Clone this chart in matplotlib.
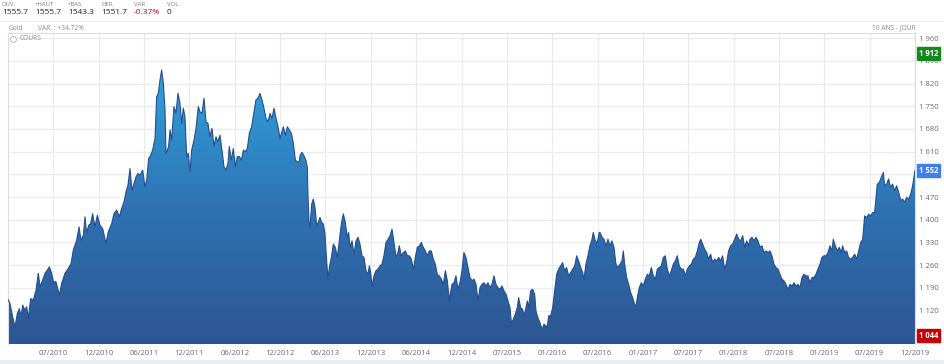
import numpy as np
import matplotlib
matplotlib.use("Agg")
import matplotlib.pyplot as plt
from matplotlib.colors import LinearSegmentedColormap

plt.rcParams['font.family'] = ['Open Sans', 'DejaVu Sans']

# ---- data (decimal year, gold price) ----
dates = [
    2010.000, 2010.022, 2010.051, 2010.077, 2010.103, 2010.125, 2010.143, 2010.162, 2010.187, 2010.206,
    2010.224, 2010.250, 2010.279, 2010.309, 2010.334, 2010.353, 2010.382, 2010.408, 2010.434, 2010.456,
    2010.481, 2010.500, 2010.529, 2010.566, 2010.592, 2010.628, 2010.665, 2010.695, 2010.720, 2010.757,
    2010.783, 2010.805, 2010.831, 2010.849, 2010.867, 2010.889, 2010.911, 2010.933, 2010.959, 2010.985,
    2011.014, 2011.044, 2011.080, 2011.106, 2011.143, 2011.169, 2011.198, 2011.227, 2011.253, 2011.279,
    2011.301, 2011.323, 2011.345, 2011.367, 2011.389, 2011.411, 2011.433, 2011.455, 2011.485, 2011.510,
    2011.529, 2011.551,
    2011.566, 2011.595, 2011.621, 2011.639, 2011.657, 2011.676, 2011.694, 2011.713, 2011.731, 2011.742,
    2011.757, 2011.771, 2011.786, 2011.804, 2011.830, 2011.852, 2011.874, 2011.896, 2011.915, 2011.933,
    2011.951, 2011.970, 2011.988,
    2012.007, 2012.025, 2012.051, 2012.073, 2012.098, 2012.117, 2012.139,
    2012.161, 2012.183, 2012.205, 2012.227, 2012.249, 2012.271, 2012.293, 2012.315, 2012.337, 2012.359,
    2012.381, 2012.403, 2012.425, 2012.440, 2012.462, 2012.484, 2012.506, 2012.528, 2012.550, 2012.573,
    2012.595, 2012.617, 2012.639, 2012.661, 2012.686, 2012.712, 2012.734, 2012.756, 2012.778, 2012.800,
    2012.822, 2012.844, 2012.866, 2012.889, 2012.911, 2012.933, 2012.955, 2012.977, 2012.999,
    2013.021, 2013.036, 2013.058, 2013.080, 2013.102, 2013.124, 2013.146, 2013.168, 2013.190, 2013.212,
    2013.219, 2013.241, 2013.263, 2013.286, 2013.300, 2013.308, 2013.319, 2013.330, 2013.348, 2013.366,
    2013.385, 2013.403, 2013.421, 2013.440, 2013.458, 2013.477, 2013.495, 2013.513, 2013.528, 2013.543,
    2013.565, 2013.587, 2013.609, 2013.631, 2013.653, 2013.675, 2013.697, 2013.719, 2013.741, 2013.756,
    2013.771, 2013.793, 2013.815, 2013.837, 2013.859, 2013.881, 2013.903, 2013.925, 2013.947, 2013.969,
    2013.984, 2013.998,
    2014.013, 2014.035, 2014.057, 2014.079, 2014.101, 2014.123, 2014.145, 2014.167,
    2014.190, 2014.212, 2014.234, 2014.256, 2014.278, 2014.300, 2014.314, 2014.336, 2014.359, 2014.381,
    2014.403, 2014.425, 2014.447, 2014.469, 2014.491, 2014.513, 2014.535, 2014.557, 2014.579, 2014.601,
    2014.623, 2014.645, 2014.667, 2014.689, 2014.711, 2014.733, 2014.755, 2014.778, 2014.800, 2014.822,
    2014.844, 2014.866,
    2014.873, 2014.895, 2014.917, 2014.939, 2014.961, 2014.983,
    2015.005, 2015.027, 2015.049, 2015.072,
    2015.094, 2015.116, 2015.138, 2015.160, 2015.182, 2015.204, 2015.226, 2015.248, 2015.270, 2015.292,
    2015.314, 2015.336, 2015.358, 2015.380, 2015.402, 2015.424, 2015.446, 2015.468, 2015.491, 2015.513,
    2015.535, 2015.549, 2015.571, 2015.593, 2015.615, 2015.630, 2015.652, 2015.674, 2015.689, 2015.711,
    2015.726, 2015.740, 2015.762, 2015.784, 2015.807, 2015.821, 2015.843, 2015.865, 2015.887, 2015.909,
    2015.931, 2015.946, 2015.961, 2015.983,
    2016.005, 2016.027, 2016.049, 2016.071, 2016.093, 2016.115,
    2016.137, 2016.159, 2016.181, 2016.203, 2016.226, 2016.248, 2016.270, 2016.292, 2016.314, 2016.336,
    2016.350, 2016.372, 2016.394, 2016.416, 2016.439, 2016.453, 2016.475, 2016.497, 2016.519,
    2016.527, 2016.549, 2016.571, 2016.593, 2016.615, 2016.637, 2016.659, 2016.681, 2016.703, 2016.725,
    2016.747, 2016.769, 2016.784, 2016.799, 2016.821, 2016.843, 2016.865, 2016.887, 2016.909, 2016.924,
    2016.938, 2016.960, 2016.983,
    2017.005, 2017.027, 2017.049, 2017.071, 2017.093, 2017.115, 2017.137,
    2017.159, 2017.181, 2017.203, 2017.225, 2017.247, 2017.269, 2017.291, 2017.313, 2017.335, 2017.357,
    2017.379, 2017.401, 2017.424, 2017.446, 2017.468, 2017.490, 2017.512, 2017.534, 2017.556, 2017.578,
    2017.600, 2017.622, 2017.637, 2017.659, 2017.681, 2017.703, 2017.725, 2017.747, 2017.769, 2017.791,
    2017.813, 2017.835, 2017.857, 2017.879, 2017.901, 2017.923, 2017.945, 2017.967, 2017.989,
    2018.012, 2018.034, 2018.056, 2018.078, 2018.100, 2018.122, 2018.144, 2018.166,
    2018.181, 2018.203, 2018.225, 2018.247, 2018.269, 2018.291, 2018.313, 2018.335, 2018.357, 2018.379,
    2018.401, 2018.423, 2018.445, 2018.467, 2018.489, 2018.511, 2018.533, 2018.555, 2018.577, 2018.600,
    2018.622, 2018.644, 2018.666, 2018.688, 2018.710, 2018.732, 2018.754, 2018.776, 2018.798, 2018.820,
    2018.842, 2018.864, 2018.886, 2018.908, 2018.930, 2018.952, 2018.974, 2018.996,
    2019.019, 2019.041,
    2019.063, 2019.085, 2019.099, 2019.121, 2019.143, 2019.165, 2019.188, 2019.202, 2019.224, 2019.246,
    2019.268, 2019.290, 2019.312, 2019.335, 2019.357, 2019.379, 2019.401, 2019.423, 2019.445, 2019.467,
    2019.489, 2019.511, 2019.533, 2019.555, 2019.570, 2019.584, 2019.606, 2019.628, 2019.651, 2019.665,
    2019.687, 2019.709, 2019.731, 2019.753, 2019.775, 2019.798, 2019.820, 2019.842, 2019.864, 2019.886,
    2019.908, 2019.930, 2019.952, 2019.974, 2019.988, 2020.000,
]

prices = [
    1154, 1142, 1101, 1070, 1111, 1126, 1101, 1137, 1121, 1132,
    1096, 1157, 1152, 1183, 1235, 1194, 1214, 1235, 1245, 1255,
    1235, 1209, 1209, 1168, 1204, 1235, 1250, 1265, 1307, 1337,
    1378, 1337, 1353, 1409, 1358, 1383, 1388, 1419, 1378, 1414,
    1383, 1373, 1327, 1363, 1388, 1419, 1430, 1409, 1435, 1455,
    1486, 1507, 1558, 1491, 1512, 1532, 1543, 1537, 1553, 1502,
    1522, 1590,
    1595, 1615, 1651, 1780, 1790, 1831, 1862, 1821, 1739, 1605,
    1615, 1626, 1677, 1646, 1749, 1728, 1790, 1759, 1697, 1744,
    1718, 1595, 1605,
    1548, 1615, 1646, 1682, 1749, 1733, 1728,
    1775, 1702, 1697, 1656, 1682, 1626, 1656, 1641, 1661, 1615,
    1564, 1553, 1574, 1626, 1584, 1620, 1564, 1595, 1595, 1584,
    1615, 1610, 1620, 1667, 1687, 1733, 1770, 1775, 1790, 1770,
    1744, 1713, 1702, 1728, 1713, 1744, 1713, 1687, 1651,
    1672, 1687, 1661, 1687, 1677, 1667, 1636, 1584, 1579, 1579,
    1598, 1608, 1598, 1582, 1562, 1469, 1392, 1376, 1448, 1464,
    1438, 1382, 1392, 1407, 1392, 1387, 1356, 1274, 1217, 1253,
    1284, 1325, 1315, 1284, 1335, 1387, 1418, 1392, 1346, 1361,
    1315, 1335, 1294, 1335, 1346, 1325, 1289, 1284, 1243, 1232,
    1258, 1238,
    1196, 1227, 1243, 1248, 1258, 1263, 1289, 1330,
    1340, 1351, 1371, 1330, 1284, 1299, 1320, 1289, 1299, 1304,
    1289, 1289, 1279, 1248, 1284, 1315, 1320, 1330, 1315, 1304,
    1289, 1304, 1304, 1279, 1263, 1232, 1227, 1217, 1201, 1243,
    1212, 1150,
    1165, 1201, 1206, 1227, 1186, 1206,
    1243, 1299, 1284, 1253,
    1222, 1212, 1217, 1201, 1150, 1191, 1201, 1206, 1196, 1206,
    1191, 1201, 1227, 1201, 1191, 1186, 1196, 1181, 1170, 1150,
    1129, 1083, 1093, 1109, 1129, 1160, 1129, 1124, 1104, 1129,
    1150, 1129, 1181, 1186, 1170, 1119, 1098, 1083, 1062, 1078,
    1073, 1068, 1104, 1104,
    1129, 1181, 1232, 1248, 1258, 1268,
    1243, 1253, 1227, 1237, 1248, 1258, 1289, 1273, 1253, 1237,
    1217, 1263, 1289, 1320, 1340, 1361, 1335, 1330, 1361,
    1361, 1346, 1340, 1320, 1340, 1320, 1335, 1315, 1263, 1253,
    1263, 1273, 1304, 1263, 1222, 1201, 1175, 1160, 1139, 1134,
    1160, 1191, 1206,
    1196, 1217, 1232, 1227, 1253, 1227, 1217,
    1248, 1253, 1258, 1284, 1289, 1248, 1227, 1243, 1263, 1273,
    1289, 1258, 1248, 1248, 1227, 1248, 1258, 1263, 1279, 1284,
    1304, 1330, 1340, 1325, 1309, 1299, 1279, 1294, 1268, 1279,
    1273, 1284, 1273, 1289, 1248, 1268, 1304, 1320, 1325,
    1340, 1356, 1340, 1335, 1351, 1315, 1335, 1320,
    1340, 1346, 1335, 1346, 1335, 1315, 1320, 1299, 1304, 1299,
    1304, 1289, 1263, 1253, 1248, 1232, 1217, 1212, 1201, 1186,
    1201, 1196, 1206, 1196, 1201, 1191, 1222, 1232, 1227, 1227,
    1206, 1222, 1222, 1232, 1248, 1263, 1284, 1289,
    1289, 1299,
    1320, 1304, 1340, 1320, 1304, 1315, 1299, 1320, 1299, 1304,
    1284, 1279, 1284, 1294, 1279, 1304, 1330, 1340, 1412, 1407,
    1417, 1412, 1422, 1422, 1469, 1510, 1515, 1531, 1546, 1505,
    1510, 1526, 1500, 1510, 1490, 1505, 1485, 1459, 1464, 1454,
    1469, 1464, 1479, 1505, 1531, 1552,
]

y_ticks = [1050, 1120, 1190, 1260, 1330, 1400, 1470, 1540, 1610, 1680, 1750, 1820, 1890, 1960]
y_hidden = [1050, 1540]  # covered by the value boxes in the original
x_tick_labels = ["07/2010", "12/2010", "06/2011", "12/2011", "06/2012", "12/2012", "06/2013",
                 "12/2013", "06/2014", "12/2014", "07/2015", "01/2016", "07/2016", "01/2017",
                 "07/2017", "01/2018", "07/2018", "01/2019", "07/2019", "12/2019"]
x_tick_pos = [2010.5 + 0.5 * i for i in range(len(x_tick_labels))]

header_keys = ["OUV.", "+HAUT", "+BAS", "DER.", "VAR.", "VOL."]
header_vals = ["1555.7", "1555.7", "1543.3", "1551.7", "-0.37%", "0"]

max_label, last_label, min_label = 1912, 1552, 1044


def fmt(v):
    return f"{v // 1000} {v % 1000:03d}"


# ---- figure ----
W, H = 945, 364
fig = plt.figure(figsize=(W / 100, H / 100), dpi=100)
fig.patch.set_facecolor('white')

L, R, T, B = 8, 915, 33, 344
ax = fig.add_axes([L / W, 1 - B / H, (R - L) / W, (B - T) / H])
ymin, ymax = 1017, 1976

d = np.array(dates)
p = np.array(prices)

# gradient fill
cmap = LinearSegmentedColormap.from_list('g', ['#2d5593', '#2f73b5', '#31a3dc'])
grad = np.linspace(0, 1, 256).reshape(-1, 1)
im = ax.imshow(grad, extent=[2010.0, 2020.0, ymin, 1870], origin='lower',
               aspect='auto', cmap=cmap, zorder=2)
poly = ax.fill_between(d, p, ymin, color='none', lw=0)
im.set_clip_path(poly.get_paths()[0], transform=ax.transData)
ax.set_xlim(2010.0, 2020.0)
ax.set_ylim(ymin, ymax)
ax.plot(d, p, color='#234f8e', lw=0.8, zorder=3)

# grid / ticks
ax.set_yticks(y_ticks)
ax.set_yticklabels(["" if v in y_hidden else fmt(v) for v in y_ticks])
ax.set_xticks(x_tick_pos)
ax.set_xticklabels(x_tick_labels)
ax.grid(True, color='#ebebeb', lw=0.9, zorder=0)
ax.set_axisbelow(True)
ax.yaxis.tick_right()
ax.tick_params(axis='both', length=0, labelsize=5.5, colors='#6a6a6a')
ax.tick_params(axis='y', pad=3)
ax.tick_params(axis='x', pad=4)
ax.spines['bottom'].set_visible(False)
for s in ['left', 'right', 'top']:
    ax.spines[s].set_color('#dcdcdc')
    ax.spines[s].set_linewidth(0.8)


# value boxes
def box(val, fc):
    ax.annotate(fmt(val), xy=(1.0, val),
                xycoords=('axes fraction', 'data'), xytext=(3, 0), textcoords='offset points',
                ha='left', va='center', fontsize=5.5, color='white', fontweight='bold',
                bbox=dict(boxstyle='square,pad=0.25', fc=fc, ec=fc), zorder=10,
                annotation_clip=False)


box(max_label, '#16891c')
box(last_label, '#3d7ff0')
box(min_label, '#c40000')

# header texts
xs = [2, 35, 68, 101, 134, 167]
for x, k, v in zip(xs, header_keys, header_vals):
    fig.text(x / W, 1 - 5 / H, k, fontsize=4.3, color='#7a7a7a', va='center', ha='left')
    fig.text(x / W, 1 - 13 / H, v, fontsize=6, va='center', ha='left',
             color='#d0021b' if v.startswith('-') else '#222222')

fig.text(9 / W, 1 - 28 / H, "Gold", fontsize=4.8, color='#8a8a8a', va='center')
fig.text(38 / W, 1 - 28 / H, "VAR. : +34.72%", fontsize=4.8, color='#8a8a8a', va='center')
fig.text(916 / W, 1 - 28 / H, "10 ANS - JOUR", fontsize=4.8, color='#8a8a8a', va='center', ha='right')
fig.text(20 / W, 1 - 38.5 / H, "COURS", fontsize=4.8, color='#8a8a8a', va='center')
fig.add_artist(plt.Line2D([13.5 / W], [1 - 38.5 / H], marker='o', markersize=4.2,
                          markerfacecolor='white', markeredgecolor='#b0b0b0',
                          markeredgewidth=0.6, linestyle='none'))
# separators
fig.add_artist(plt.Line2D([0, 1], [1 - 21 / H, 1 - 21 / H], color='#eeeeee', lw=0.8))
fig.add_artist(matplotlib.patches.Rectangle((0, 0), 1, 4 / H, transform=fig.transFigure,
                                            fc='#e8edf1', ec='none'))

fig.savefig('out.png', dpi=100, facecolor='white')
